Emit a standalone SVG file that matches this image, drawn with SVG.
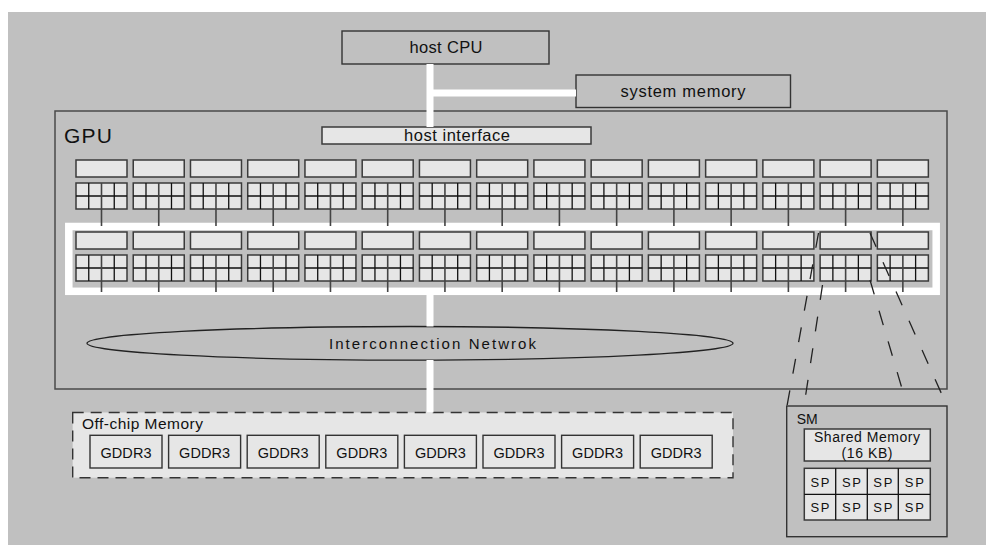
<svg xmlns="http://www.w3.org/2000/svg" xmlns:xlink="http://www.w3.org/1999/xlink" width="986" height="545" viewBox="0 0 986 545">
<style>
.bx{fill:none;stroke:#333;stroke-width:1.4}
.lt{fill:#e6e6e6;stroke:#3a3a3a;stroke-width:1.5}
.grid{fill:none;stroke:#111;stroke-width:1.3}
.ctr{fill:none;stroke:#444;stroke-width:1.6}
.bus{fill:none;stroke:#fff;stroke-width:7}
.dash{fill:none;stroke:#222;stroke-width:1.3;stroke-dasharray:15 17}
.t{font-family:"Liberation Sans",Arial,sans-serif;fill:#111;text-anchor:middle}
.tl{font-family:"Liberation Sans",Arial,sans-serif;fill:#111}
</style>
<defs>
<g id="smUnit">
<rect class="lt" x="0" y="0" width="51" height="17"/>
<rect class="lt" x="0" y="23" width="51" height="26"/>
<path class="grid" d="M12.75 23v26M38.25 23v26M0 36h51"/>
<path class="ctr" d="M25.5 23v26"/>
</g>
</defs>
<rect x="0" y="0" width="986" height="545" fill="#fff"/>
<rect x="8" y="12" width="978" height="533" fill="#c0c0c0"/>

<g id="host-cpu">
<rect class="bx" x="342" y="31" width="207" height="33"/>
<text class="t" x="446" y="53.3" font-size="16.5" textLength="73" lengthAdjust="spacing">host CPU</text>
</g>
<g id="system-memory">
<rect class="bx" x="576" y="75" width="214.5" height="32.5"/>
<text class="t" x="683" y="97.3" font-size="16.5" textLength="125" lengthAdjust="spacing">system memory</text>
</g>

<g id="gpu">
<rect x="55" y="111" width="892" height="278" fill="none" stroke="#4a4a4a" stroke-width="1.5"/>
<text class="tl" x="64" y="143.3" font-size="21" textLength="48" lengthAdjust="spacing">GPU</text>
</g>

<g id="host-interface">
<rect class="lt" x="322" y="127" width="269" height="17"/>
<text class="t" x="457" y="140.7" font-size="16.5" textLength="106" lengthAdjust="spacing">host interface</text>
</g>

<g id="highlight-frame">
<rect x="68.8" y="226.5" width="867.4" height="64.8" fill="none" stroke="#fff" stroke-width="7.5"/>
</g>

<g id="sm-row1">
<g id="sm-1-01" transform="translate(76,160)"><use href="#smUnit"/></g>
<g id="sm-1-02" transform="translate(133.24,160)"><use href="#smUnit"/></g>
<g id="sm-1-03" transform="translate(190.48,160)"><use href="#smUnit"/></g>
<g id="sm-1-04" transform="translate(247.72,160)"><use href="#smUnit"/></g>
<g id="sm-1-05" transform="translate(304.96,160)"><use href="#smUnit"/></g>
<g id="sm-1-06" transform="translate(362.2,160)"><use href="#smUnit"/></g>
<g id="sm-1-07" transform="translate(419.44,160)"><use href="#smUnit"/></g>
<g id="sm-1-08" transform="translate(476.68,160)"><use href="#smUnit"/></g>
<g id="sm-1-09" transform="translate(533.92,160)"><use href="#smUnit"/></g>
<g id="sm-1-10" transform="translate(591.16,160)"><use href="#smUnit"/></g>
<g id="sm-1-11" transform="translate(648.4,160)"><use href="#smUnit"/></g>
<g id="sm-1-12" transform="translate(705.64,160)"><use href="#smUnit"/></g>
<g id="sm-1-13" transform="translate(762.88,160)"><use href="#smUnit"/></g>
<g id="sm-1-14" transform="translate(820.12,160)"><use href="#smUnit"/></g>
<g id="sm-1-15" transform="translate(877.36,160)"><use href="#smUnit"/></g>
</g>
<g id="sm-row2">
<g id="sm-2-01" transform="translate(76,232)"><use href="#smUnit"/></g>
<g id="sm-2-02" transform="translate(133.24,232)"><use href="#smUnit"/></g>
<g id="sm-2-03" transform="translate(190.48,232)"><use href="#smUnit"/></g>
<g id="sm-2-04" transform="translate(247.72,232)"><use href="#smUnit"/></g>
<g id="sm-2-05" transform="translate(304.96,232)"><use href="#smUnit"/></g>
<g id="sm-2-06" transform="translate(362.2,232)"><use href="#smUnit"/></g>
<g id="sm-2-07" transform="translate(419.44,232)"><use href="#smUnit"/></g>
<g id="sm-2-08" transform="translate(476.68,232)"><use href="#smUnit"/></g>
<g id="sm-2-09" transform="translate(533.92,232)"><use href="#smUnit"/></g>
<g id="sm-2-10" transform="translate(591.16,232)"><use href="#smUnit"/></g>
<g id="sm-2-11" transform="translate(648.4,232)"><use href="#smUnit"/></g>
<g id="sm-2-12" transform="translate(705.64,232)"><use href="#smUnit"/></g>
<g id="sm-2-13" transform="translate(762.88,232)"><use href="#smUnit"/></g>
<g id="sm-2-14" transform="translate(820.12,232)"><use href="#smUnit"/></g>
<g id="sm-2-15" transform="translate(877.36,232)"><use href="#smUnit"/></g>
</g>

<g id="interconnect">
<ellipse cx="410" cy="343.3" rx="323" ry="16.8" fill="none" stroke="#222" stroke-width="1.3"/>
<text class="t" x="432.5" y="349.3" font-size="15" textLength="207" lengthAdjust="spacing">Interconnection Netwrok</text>
</g>

<g id="off-chip-memory">
<rect x="72.7" y="412.5" width="660.3" height="65.2" fill="#e6e6e6" stroke="#333" stroke-width="1.4" stroke-dasharray="11 7"/>
<text class="tl" x="82" y="429.3" font-size="15.5" textLength="121" lengthAdjust="spacing">Off-chip Memory</text>
</g>
<g id="gddr3-1"><rect class="bx" x="90" y="435.3" width="72" height="32.7"/><text class="t" x="126" y="457.5" font-size="14.5" textLength="51" lengthAdjust="spacing">GDDR3</text></g>
<g id="gddr3-2"><rect class="bx" x="168.6" y="435.3" width="72" height="32.7"/><text class="t" x="204.6" y="457.5" font-size="14.5" textLength="51" lengthAdjust="spacing">GDDR3</text></g>
<g id="gddr3-3"><rect class="bx" x="247.2" y="435.3" width="72" height="32.7"/><text class="t" x="283.2" y="457.5" font-size="14.5" textLength="51" lengthAdjust="spacing">GDDR3</text></g>
<g id="gddr3-4"><rect class="bx" x="325.8" y="435.3" width="72" height="32.7"/><text class="t" x="361.8" y="457.5" font-size="14.5" textLength="51" lengthAdjust="spacing">GDDR3</text></g>
<g id="gddr3-5"><rect class="bx" x="404.4" y="435.3" width="72" height="32.7"/><text class="t" x="440.4" y="457.5" font-size="14.5" textLength="51" lengthAdjust="spacing">GDDR3</text></g>
<g id="gddr3-6"><rect class="bx" x="483" y="435.3" width="72" height="32.7"/><text class="t" x="519" y="457.5" font-size="14.5" textLength="51" lengthAdjust="spacing">GDDR3</text></g>
<g id="gddr3-7"><rect class="bx" x="561.6" y="435.3" width="72" height="32.7"/><text class="t" x="597.6" y="457.5" font-size="14.5" textLength="51" lengthAdjust="spacing">GDDR3</text></g>
<g id="gddr3-8"><rect class="bx" x="640.2" y="435.3" width="72" height="32.7"/><text class="t" x="676.2" y="457.5" font-size="14.5" textLength="51" lengthAdjust="spacing">GDDR3</text></g>

<g id="sm-detail">
<rect class="bx" x="786.7" y="406" width="160.3" height="130.7"/>
<text class="tl" x="796.7" y="424" font-size="14" textLength="21" lengthAdjust="spacing">SM</text>
<rect class="lt" x="804.3" y="429" width="126" height="32" stroke-width="1.3"/>
<text class="t" x="867" y="442.3" font-size="14" textLength="106" lengthAdjust="spacing">Shared Memory</text>
<text class="t" x="867" y="458.3" font-size="14" textLength="51" lengthAdjust="spacing">(16 KB)</text>
<rect class="lt" x="804.3" y="468.3" width="126" height="51.7" stroke-width="1.3"/>
<path class="grid" d="M835.7 468.3v51.7M867.3 468.3v51.7M898.3 468.3v51.7M804.3 494.3h126" stroke-width="1.1"/>
<text class="t" x="820" y="486.7" font-size="13" textLength="19" lengthAdjust="spacing">SP</text>
<text class="t" x="851.5" y="486.7" font-size="13" textLength="19" lengthAdjust="spacing">SP</text>
<text class="t" x="882.8" y="486.7" font-size="13" textLength="19" lengthAdjust="spacing">SP</text>
<text class="t" x="914.3" y="486.7" font-size="13" textLength="19" lengthAdjust="spacing">SP</text>
<text class="t" x="820" y="512.3" font-size="13" textLength="19" lengthAdjust="spacing">SP</text>
<text class="t" x="851.5" y="512.3" font-size="13" textLength="19" lengthAdjust="spacing">SP</text>
<text class="t" x="882.8" y="512.3" font-size="13" textLength="19" lengthAdjust="spacing">SP</text>
<text class="t" x="914.3" y="512.3" font-size="13" textLength="19" lengthAdjust="spacing">SP</text>
</g>

<g id="connectors">
<path class="bus" d="M430 64V127M430 93H576"/>
<path class="bus" d="M430 295V326.5M430 360V412.5"/>
<path class="ctr" d="M101.5 209v17M158.74 209v17M215.98 209v17M273.22 209v17M330.46 209v17M387.7 209v17M444.94 209v17M502.18 209v17M559.42 209v17M616.66 209v17M673.9 209v17M731.14 209v17M788.38 209v17M845.62 209v17M902.86 209v17"/>
<path class="ctr" d="M101.5 281v11M158.74 281v11M215.98 281v11M273.22 281v11M330.46 281v11M387.7 281v11M444.94 281v11M502.18 281v11M559.42 281v11M616.66 281v11M673.9 281v11M731.14 281v11M788.38 281v11M845.62 281v11M902.86 281v11"/>
<path class="dash" d="M818.5 233L787 406"/>
<path class="dash" d="M822.5 285L804 406"/>
<path class="dash" d="M870 233L947 406"/>
<path class="dash" d="M870 280L906 402"/>
</g>
</svg>
